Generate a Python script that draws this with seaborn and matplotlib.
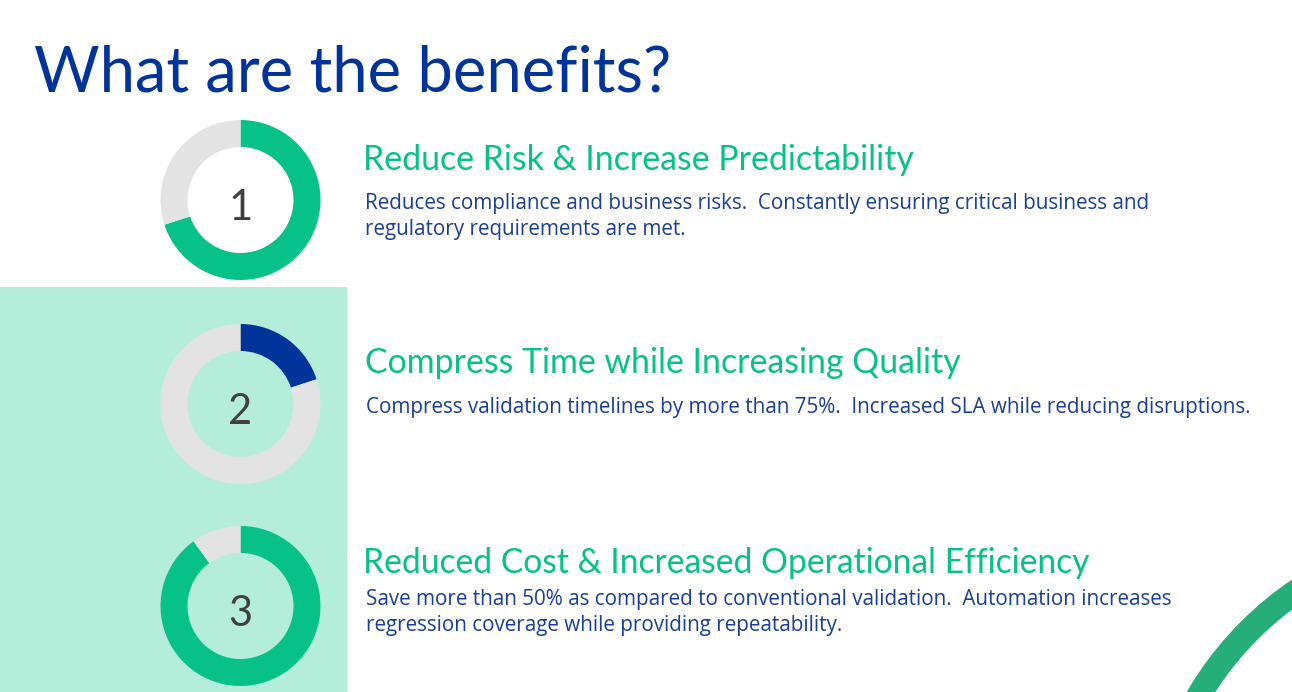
import matplotlib
matplotlib.use('Agg')
import matplotlib.pyplot as plt
from matplotlib.patches import Rectangle, Wedge
import seaborn as sns

sns.set_theme(style='white')
plt.rcParams['font.family'] = ['Lato', 'Open Sans', 'DejaVu Sans']

# Дані
numbers = ['1', '2', '3']
shares = [70, 20, 90]
donut_colors = ['#07C288', '#00349B', '#07C288']
headings = ['Reduce Risk & Increase Predictability',
            'Compress Time while Increasing Quality',
            'Reduced Cost & Increased Operational Efficiency']
bodies = [['Reduces compliance and business risks.  Constantly ensuring critical business and',
           'regulatory requirements are met.'],
          ['Compress validation timelines by more than 75%.  Increased SLA while reducing disruptions.'],
          ['Save more than 50% as compared to conventional validation.  Automation increases',
           'regression coverage while providing repeatability.']]
title = 'What are the benefits?'

BLUE = '#00349B'
BODY_BLUE = '#1A3F97'
GREEN = '#07C288'
GREY = '#E3E3E3'
W, H = 1292, 692

fig = plt.figure(figsize=(W / 100, H / 100), dpi=100)
ax = fig.add_axes([0, 0, 1, 1])
ax.set_xlim(0, W)
ax.set_ylim(H, 0)
ax.axis('off')

# Фон і дуга в кутку
ax.add_patch(Rectangle((0, 287), 347, 405, color='#B4EEDB', lw=0, zorder=0))
ax.add_patch(Wedge((1484, 865), 344, 180, 270, width=24.5, color='#25AE78', lw=0, zorder=1))

ax.text(34, 73, title, fontsize=45.6, color=BLUE, va='center', ha='left')

centers = [(240.5, 200), (240.5, 404), (240.5, 606)]
head_pos = [(363, 160), (365, 363), (363, 563)]
head_sizes = [24.4, 24.4, 24.2]
body_pos = [[(365, 203), (365, 230)], [(366, 408)], [(366, 599), (366, 626)]]
R = 80

for i in range(3):
    cx, cy = centers[i]
    # Окрема вісь для кожного кільця
    pie_ax = fig.add_axes([(cx - R) / W, 1 - (cy + R) / H, 2 * R / W, 2 * R / H])
    pie_ax.pie([shares[i], 100 - shares[i]], colors=[donut_colors[i], GREY], startangle=90,
               counterclock=False, radius=1, wedgeprops=dict(width=27 / R, linewidth=0))
    pie_ax.set_xlim(-1, 1)
    pie_ax.set_ylim(-1, 1)
    pie_ax.patch.set_alpha(0)
    pie_ax.text(0, -0.1, numbers[i], fontsize=30, color='#404040', ha='center', va='center')

    ax.text(head_pos[i][0], head_pos[i][1], headings[i], fontsize=head_sizes[i], color=GREEN, va='center', ha='left')
    for line, (x, y) in zip(bodies[i], body_pos[i]):
        ax.text(x, y, line, fontsize=14.9, family=['Open Sans', 'DejaVu Sans'], color=BODY_BLUE, va='center', ha='left')

fig.savefig('out.png', dpi=100)
